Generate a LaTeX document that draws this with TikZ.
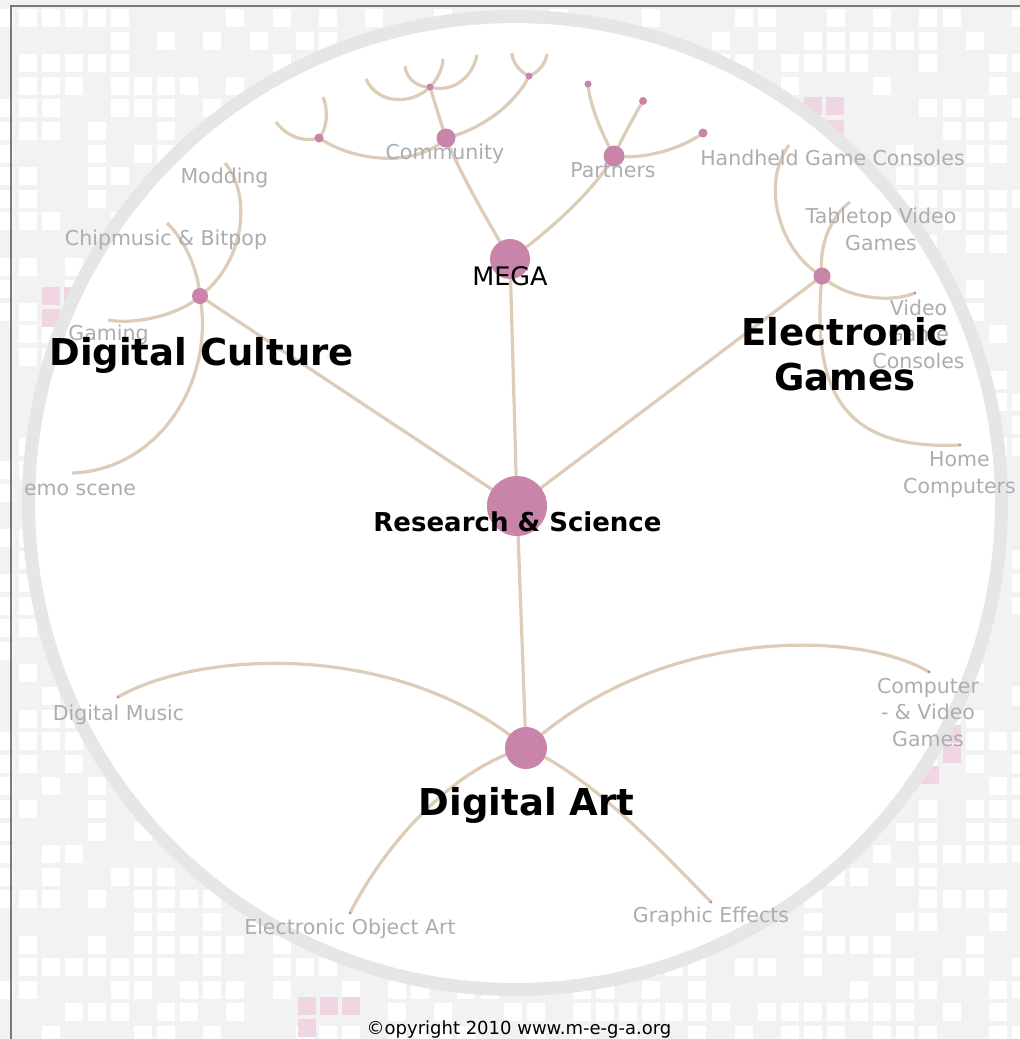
\documentclass[tikz,border=0pt]{standalone}
\usepackage{fontspec}
\setmainfont{DejaVu Sans}
\definecolor{bgc}{HTML}{F2F2F2}
\definecolor{ringc}{HTML}{E6E6E6}
\definecolor{pinkc}{HTML}{F0D6E3}
\definecolor{nodec}{HTML}{C985A9}
\definecolor{linkc}{HTML}{DDCCB8}
\definecolor{labelc}{HTML}{ABADB2}
\definecolor{framec}{HTML}{7A7A7A}
\begin{document}
\begin{tikzpicture}[x=1pt,y=-1pt,
  link/.style={draw=linkc, line width=3.2pt},
  bud/.style={circle, fill=nodec, inner sep=0pt, minimum size=#1},
  tile/.style={fill=white},
  pinktile/.style={fill=pinkc},
  leaf/.style={text=labelc, font=\fontsize{20.5}{26.5}\selectfont, align=center, anchor=base, inner sep=0pt},
  hub/.style={text=black, font=\bfseries\fontsize{37}{45}\selectfont, align=center, anchor=base, inner sep=0pt},
]
\useasboundingbox (0,0) rectangle (1020,1039);

% tiled page background
\begin{scope}
  \clip (0,0) rectangle (1020,1039);
  \fill[bgc] (0,0) rectangle (1020,1039);
  \pgfmathsetseed{2010}
  \foreach \i in {-1,...,43}{
    \foreach \j in {0,...,45}{
      \pgfmathtruncatemacro\r{rnd*100}
      \ifnum\r<52 \fill[tile] ({18.5+23.1*\i},{9+22.6*\j}) rectangle ++(18,18);\fi
    }}
  \foreach \px/\py in {42/287,64/287,42/309,804/97,826/97,826/120,943/725,943/745,921/766,298/997,320/997,342/997,298/1019}
    \fill[pinktile] (\px,\py) rectangle ++(17.5,17.5);
\end{scope}

% frame
\draw[framec, line width=2pt] (11,1039) -- (11,6) -- (1020,6);

% disc and ring
\fill[white] (515,503) circle[radius=480pt];
\draw[ringc, line width=13pt] (515,503) circle[radius=486.5pt];

% node positions
\coordinate (rs) at (517,506);
\coordinate (mega) at (510,259);
\coordinate (cult) at (200,296);
\coordinate (egam) at (822,276);
\coordinate (dart) at (526,748);
\coordinate (comm) at (446,138);
\coordinate (part) at (614,156);
\coordinate (c1) at (319,138);
\coordinate (c2) at (430,87);
\coordinate (c3) at (529,76);
\coordinate (p1) at (588,84);
\coordinate (p2) at (643,101);
\coordinate (p3) at (703,133);
\coordinate (c1a) at (276,122);
\coordinate (c1b) at (323,97);
\coordinate (c2a) at (366,79);
\coordinate (c2b) at (405,66);
\coordinate (c2c) at (443,59);
\coordinate (c2d) at (477,55);
\coordinate (c3a) at (512,53);
\coordinate (c3b) at (547,54);
\coordinate (mod) at (225,163);
\coordinate (chip) at (167,223);
\coordinate (gam) at (108,320);
\coordinate (demo) at (72,473);
\coordinate (hand) at (789,145);
\coordinate (table) at (850,202);
\coordinate (vgc) at (915,293);
\coordinate (home) at (960,445);
\coordinate (dmus) at (118,697);
\coordinate (cvg) at (929,672);
\coordinate (eoa) at (350,913);
\coordinate (gfx) at (711,902);

% links
\draw[link] (rs) -- (mega);
\draw[link] (rs) -- (cult);
\draw[link] (rs) -- (egam);
\draw[link] (rs) -- (dart);
\draw[link] (mega) .. controls (490,225) and (458,170) .. (comm);
\draw[link] (mega) .. controls (545,235) and (595,190) .. (part);
\draw[link] (comm) .. controls (420,165) and (360,165) .. (c1);
\draw[link] (comm) .. controls (440,120) and (434,100) .. (c2);
\draw[link] (comm) .. controls (480,130) and (515,105) .. (c3);
\draw[link] (part) .. controls (600,130) and (590,105) .. (p1);
\draw[link] (part) .. controls (622,138) and (635,115) .. (p2);
\draw[link] (part) .. controls (640,160) and (680,150) .. (p3);
\draw[link] (c1) .. controls (305,142) and (288,138) .. (c1a);
\draw[link] (c1) .. controls (328,128) and (328,108) .. (c1b);
\draw[link] (c2) .. controls (412,105) and (378,105) .. (c2a);
\draw[link] (c2) .. controls (420,88) and (406,80) .. (c2b);
\draw[link] (c2) .. controls (437,80) and (443,68) .. (c2c);
\draw[link] (c2) .. controls (450,93) and (472,80) .. (c2d);
\draw[link] (c3) .. controls (520,72) and (512,62) .. (c3a);
\draw[link] (c3) .. controls (538,73) and (546,63) .. (c3b);
\draw[link] (cult) .. controls (245,262) and (252,195) .. (mod);
\draw[link] (cult) .. controls (198,270) and (185,240) .. (chip);
\draw[link] (cult) .. controls (180,315) and (135,325) .. (gam);
\draw[link] (cult) .. controls (215,380) and (160,470) .. (demo);
\draw[link] (egam) .. controls (780,252) and (760,185) .. (hand);
\draw[link] (egam) .. controls (818,245) and (832,215) .. (table);
\draw[link] (egam) .. controls (840,295) and (885,305) .. (vgc);
\draw[link] (egam) .. controls (810,400) and (850,450) .. (home);
\draw[link] (dart) .. controls (400,640) and (200,650) .. (dmus);
\draw[link] (dart) .. controls (660,625) and (860,630) .. (cvg);
\draw[link] (dart) .. controls (460,765) and (390,835) .. (eoa);
\draw[link] (dart) .. controls (590,775) and (660,850) .. (gfx);

% node discs
\node[bud=60pt] (rsdot) at (rs) {};
\node[bud=40pt] (megadot) at (mega) {};
\node[bud=16pt] (cultdot) at (cult) {};
\node[bud=17pt] (egamdot) at (egam) {};
\node[bud=42pt] (dartdot) at (dart) {};
\node[bud=19pt] (commdot) at (comm) {};
\node[bud=21pt] (partdot) at (part) {};
\node[bud=9pt] (c1dot) at (c1) {};
\node[bud=7pt] (c2dot) at (c2) {};
\node[bud=7pt] (c3dot) at (c3) {};
\node[bud=7pt] (p1dot) at (p1) {};
\node[bud=8pt] (p2dot) at (p2) {};
\node[bud=9pt] (p3dot) at (p3) {};
\foreach \n in {dmus,cvg,eoa,gfx,home,vgc}
  \node[bud=3pt] (\n dot) at (\n) {};

% leaf labels (multi-line ones are placed by their last baseline)
\node[leaf] (lcomm) at (445,159) {Community};
\node[leaf] (lpart) at (613,177) {Partners};
\node[leaf] (lhand) at (832.5,165) {Handheld Game Consoles};
\node[leaf] (ltable) at (881,250) {Tabletop Video\\Games};
\node[leaf] (lvgc) at (918.5,368) {Video\\Game\\Consoles};
\node[leaf] (lhome) at (959.5,493) {Home\\Computers};
\node[leaf] (lmod) at (224.5,183) {Modding};
\node[leaf] (lchip) at (166,245) {Chipmusic \& Bitpop};
\node[leaf] (lgam) at (108.5,340) {Gaming};
\node[leaf] (ldemo) at (80,495) {emo scene};
\node[leaf] (ldmus) at (118.5,720) {Digital Music};
\node[leaf] (lcvg) at (928,746) {Computer\\- \& Video\\Games};
\node[leaf] (leoa) at (350,934) {Electronic Object Art};
\node[leaf] (lgfx) at (711,922) {Graphic Effects};

% hub labels
\node[hub] (lcult) at (201.5,365) {Digital Culture};
\node[hub] (legam) at (845,390) {Electronic\\Games};
\node[hub] (ldart) at (526.5,815) {Digital Art};
\node[font=\bfseries\fontsize{26}{30}\selectfont, anchor=base, inner sep=0pt] (lrs) at (517.5,531) {Research \& Science};
\node[font=\fontsize{25.5}{30}\selectfont, anchor=base, inner sep=0pt] (lmega) at (510,285) {MEGA};

% footer
\node[font=\fontsize{18}{22}\selectfont, anchor=base, inner sep=0pt] (copy) at (519,1034) {©opyright 2010 www.m-e-g-a.org};
\end{tikzpicture}
\end{document}
